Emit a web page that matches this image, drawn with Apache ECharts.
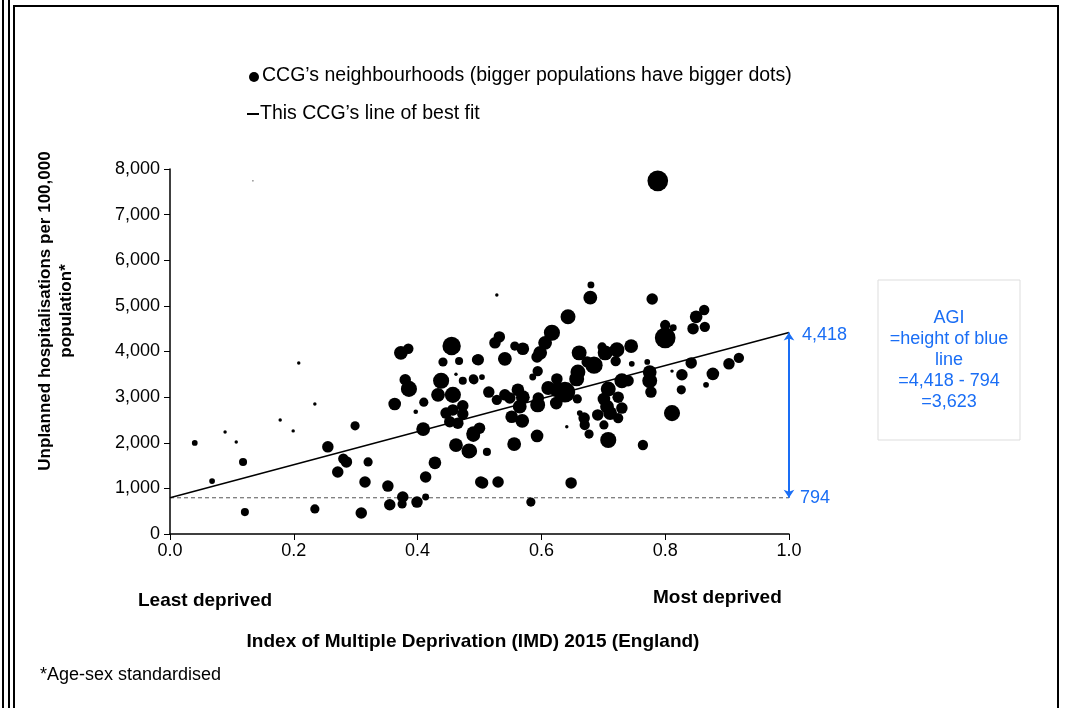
<!DOCTYPE html>
<html>
<head>
<meta charset="utf-8">
<script src="https://cdn.jsdelivr.net/npm/echarts@6/dist/echarts.min.js"></script>
<style>
  html, body { margin: 0; padding: 0; background: #fff; }
  #chart { width: 1066px; height: 708px; }
</style>
</head>
<body>
<div id="chart"></div>
<script>
// neighbourhoods: [imd, hospitalisations, dot size]
var neighbourhoods = [
  [0.040, 1996, 5], [0.068, 1160, 5], [0.089, 2237, 3], [0.107, 2018, 3], [0.118, 1580, 7],
  [0.121, 480, 7], [0.134, 7740, 1], [0.178, 2500, 3], [0.199, 2260, 3], [0.208, 3750, 3],
  [0.234, 2850, 3], [0.234, 550, 8], [0.255, 1910, 10], [0.271, 1360, 10], [0.280, 1650, 9],
  [0.285, 1580, 10], [0.299, 2370, 8], [0.309, 460, 10], [0.315, 1140, 10], [0.320, 1580, 8],
  [0.352, 1050, 10], [0.355, 640, 10], [0.363, 2850, 11], [0.373, 3970, 12], [0.385, 4060, 9],
  [0.380, 3380, 10], [0.386, 3180, 14], [0.376, 810, 10], [0.375, 660, 8], [0.397, 2680, 4],
  [0.399, 700, 10], [0.409, 2300, 12], [0.410, 2890, 8], [0.413, 1250, 10], [0.413, 810, 6],
  [0.428, 1560, 11], [0.433, 3050, 12], [0.438, 3360, 14], [0.441, 3770, 8], [0.455, 4120, 16],
  [0.457, 3050, 14], [0.467, 3790, 7], [0.462, 3500, 3], [0.473, 3360, 7], [0.490, 3400, 8],
  [0.496, 3820, 9], [0.446, 2650, 10], [0.457, 2720, 10], [0.473, 2630, 10], [0.452, 2460, 10],
  [0.465, 2430, 10], [0.473, 2810, 10], [0.462, 1950, 12], [0.483, 1820, 13], [0.490, 2210, 12],
  [0.502, 1140, 10], [0.788, 7740, 18], [0.680, 5460, 6], [0.679, 5180, 12], [0.779, 5150, 10],
  [0.528, 5240, 3], [0.643, 4760, 13], [0.617, 4410, 14], [0.606, 4190, 12], [0.598, 3970, 12],
  [0.593, 3880, 10], [0.532, 4320, 10], [0.525, 4190, 10], [0.557, 4120, 8], [0.570, 4060, 11],
  [0.498, 3820, 10], [0.541, 3840, 12], [0.594, 3570, 9], [0.586, 3440, 6], [0.491, 3380, 8],
  [0.504, 3440, 5], [0.515, 3110, 10], [0.528, 2940, 9], [0.541, 3050, 10], [0.549, 2980, 10],
  [0.562, 3160, 11], [0.570, 3000, 12], [0.565, 2790, 12], [0.594, 2830, 13], [0.625, 3400, 10],
  [0.611, 3200, 12], [0.625, 3160, 13], [0.638, 3110, 18], [0.624, 2870, 11], [0.658, 2960, 8],
  [0.661, 3970, 13], [0.674, 3770, 10], [0.685, 3700, 15], [0.659, 3550, 13], [0.657, 3400, 13],
  [0.698, 4100, 8], [0.703, 3970, 13], [0.722, 4040, 13], [0.745, 4120, 12], [0.720, 3790, 9],
  [0.746, 3730, 5], [0.771, 3770, 5], [0.730, 3360, 13], [0.740, 3360, 10], [0.708, 3180, 13],
  [0.724, 3000, 10], [0.701, 2960, 11], [0.706, 2790, 12], [0.711, 2650, 12], [0.730, 2760, 10],
  [0.724, 2540, 9], [0.691, 2610, 10], [0.701, 2390, 8], [0.677, 2190, 8], [0.708, 2060, 14],
  [0.669, 2540, 10], [0.670, 2390, 9], [0.662, 2650, 5], [0.641, 2350, 3], [0.775, 3550, 12],
  [0.775, 3360, 13], [0.777, 3110, 10], [0.800, 4580, 9], [0.813, 4520, 6], [0.800, 4300, 18],
  [0.827, 3490, 10], [0.826, 3160, 8], [0.811, 3570, 3], [0.842, 3750, 10], [0.850, 4760, 11],
  [0.863, 4910, 9], [0.845, 4500, 10], [0.864, 4540, 9], [0.866, 3270, 5], [0.877, 3510, 11],
  [0.903, 3730, 10], [0.919, 3860, 9], [0.811, 2650, 14], [0.764, 1950, 9], [0.648, 1120, 10],
  [0.593, 2150, 11], [0.556, 1970, 12], [0.512, 1800, 7], [0.490, 2170, 12], [0.500, 2320, 10],
  [0.485, 1820, 12], [0.505, 1120, 10], [0.530, 1140, 10], [0.583, 700, 8], [0.552, 2570, 11],
  [0.569, 2480, 12], [0.640, 3050, 12], [0.595, 2980, 10]
];
var fitStart = 794;   // value at IMD 0
var fitEnd = 4418;    // value at IMD 1
var yTicks = [0, 1000, 2000, 3000, 4000, 5000, 6000, 7000, 8000];

var font = '"Liberation Sans", Arial, sans-serif';
var blue = '#1a6ef5';

var chart = echarts.init(document.getElementById('chart'));
chart.setOption({
  animation: false,
  textStyle: { fontFamily: font },
  grid: { left: 170, right: 277, top: 169, bottom: 174 },
  xAxis: {
    type: 'value', min: 0, max: 1, interval: 0.2,
    axisLine: { lineStyle: { color: '#000', width: 1.5 } },
    axisTick: { show: true, length: 6, lineStyle: { color: '#000' } },
    axisLabel: { color: '#000', fontSize: 18, margin: 8, formatter: function (v) { return v.toFixed(1); } },
    splitLine: { show: false }
  },
  yAxis: {
    type: 'value', min: yTicks[0], max: yTicks[yTicks.length - 1], interval: 1000,
    axisLine: { show: true, lineStyle: { color: '#000', width: 1.5 } },
    axisTick: { show: true, length: 6, lineStyle: { color: '#000' } },
    axisLabel: { color: '#000', fontSize: 18, margin: 10, formatter: function (v) { return v.toLocaleString('en-US'); } },
    splitLine: { show: false }
  },
  series: [
    {
      type: 'scatter',
      data: neighbourhoods,
      symbolSize: function (v) { return v[2] * 1.15; },
      itemStyle: { color: '#000', opacity: 1 },
      z: 3
    },
    {
      type: 'line',
      data: [[0, fitStart], [1, fitEnd]],
      symbol: 'none',
      lineStyle: { color: '#000', width: 1.5 },
      z: 4
    },
    {
      type: 'line',
      data: [[0, fitStart], [1, fitStart]],
      symbol: 'none',
      lineStyle: { color: '#555', width: 1, type: [4, 3] },
      markLine: {
        silent: true,
        symbol: ['arrow', 'arrow'],
        symbolSize: [8, 8],
        label: { show: false },
        lineStyle: { color: blue, width: 2, type: 'solid' },
        data: [[{ coord: [1, fitStart] }, { coord: [1, fitEnd] }]]
      },
      z: 2
    }
  ],
  graphic: [
    { type: 'rect', shape: { x: 14, y: 6, width: 1044, height: 710 }, style: { fill: 'none', stroke: '#000', lineWidth: 2 } },
    { type: 'line', shape: { x1: 3, y1: 0, x2: 3, y2: 708 }, style: { stroke: '#000', lineWidth: 2 } },
    { type: 'line', shape: { x1: 9, y1: 0, x2: 9, y2: 708 }, style: { stroke: '#000', lineWidth: 2 } },
    { type: 'circle', shape: { cx: 254, cy: 77, r: 5 }, style: { fill: '#000' } },
    { type: 'text', x: 262, y: 66, style: { text: 'CCG\u2019s neighbourhoods (bigger populations have bigger dots)', font: '19.5px ' + font, fill: '#000' } },
    { type: 'line', shape: { x1: 247, y1: 114, x2: 259, y2: 114 }, style: { stroke: '#000', lineWidth: 2 } },
    { type: 'text', x: 260, y: 104, style: { text: 'This CCG\u2019s line of best fit', font: '19.5px ' + font, fill: '#000' } },
    { type: 'text', x: 56, y: 311, rotation: Math.PI / 2, style: { text: 'Unplanned hospitalisations per 100,000\npopulation*', font: 'bold 17px ' + font, fill: '#000', align: 'center', verticalAlign: 'middle', lineHeight: 21 } },
    { type: 'text', x: 802, y: 326, style: { text: '4,418', font: '18px ' + font, fill: blue } },
    { type: 'text', x: 800, y: 489, style: { text: '794', font: '18px ' + font, fill: blue } },
    { type: 'rect', shape: { x: 878, y: 280, width: 142, height: 160 }, style: { fill: '#fff', stroke: '#ddd', lineWidth: 1 } },
    { type: 'text', x: 949, y: 360, style: { text: 'AGI\n=height of blue\nline\n=4,418 - 794\n=3,623', font: '18px ' + font, fill: blue, align: 'center', verticalAlign: 'middle', lineHeight: 21 } },
    { type: 'text', x: 138, y: 591, style: { text: 'Least deprived', font: 'bold 19px ' + font, fill: '#000' } },
    { type: 'text', x: 653, y: 588, style: { text: 'Most deprived', font: 'bold 19px ' + font, fill: '#000' } },
    { type: 'text', x: 473, y: 642, style: { text: 'Index of Multiple Deprivation (IMD) 2015 (England)', font: 'bold 19px ' + font, fill: '#000', align: 'center', verticalAlign: 'middle' } },
    { type: 'text', x: 40, y: 666, style: { text: '*Age-sex standardised', font: '18px ' + font, fill: '#000' } }
  ]
});
</script>
</body>
</html>
